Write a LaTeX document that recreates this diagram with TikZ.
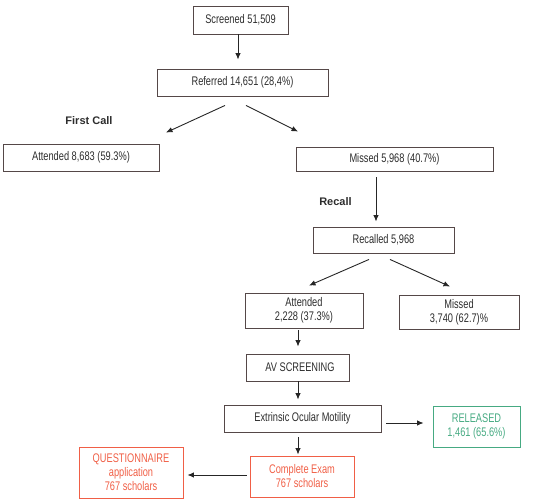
\documentclass[tikz,border=0pt]{standalone}
\usepackage{fontspec}
\setmainfont{Liberation Sans}
\newfontfamily\narrowfont{Liberation Sans}[FakeStretch=0.74]
\usetikzlibrary{arrows.meta,calc}
\definecolor{boxline}{RGB}{85,72,72}
\definecolor{txt}{RGB}{45,45,45}
\definecolor{relgreen}{RGB}{70,170,130}
\definecolor{exred}{RGB}{240,95,70}
\tikzset{
  fbox/.style={draw=boxline, line width=0.9pt, rectangle, inner sep=0pt, align=center,
    text=txt, font=\narrowfont\fontsize{12.5}{14}\selectfont},
  greenbox/.style={fbox, draw=relgreen, text=relgreen},
  redbox/.style={fbox, draw=exred, text=exred},
  lbl/.style={font=\bfseries\fontsize{11}{13}\selectfont, text=txt, inner sep=0pt},
  arr/.style={line width=0.9pt, draw=black!85, -{Latex[length=6.5pt,width=5.5pt]}}
}
\begin{document}
\begin{tikzpicture}[x=1pt,y=-1pt]
\useasboundingbox (0,0) rectangle (542,500);
\node[fbox, minimum width=95pt, minimum height=28pt] (scr) at (240.5,20) {Screened 51,509};
\node[fbox, minimum width=171pt, minimum height=27pt] (ref) at (242.5,82.5) {Referred 14,651 (28,4\%)};
\node[fbox, minimum width=156pt, minimum height=27pt] (att1) at (81,157.5) {Attended 8,683 (59.3\%)};
\node[fbox, minimum width=197pt, minimum height=24pt] (mis1) at (394.5,159) {Missed 5,968 (40.7\%)};
\node[fbox, minimum width=141pt, minimum height=26pt] (rec) at (383.5,240) {Recalled 5,968};
\node[fbox, minimum width=118pt, minimum height=35pt] (att2) at (304,310.5) {Attended\\2,228 (37.3\%)};
\node[fbox, minimum width=120pt, minimum height=34pt] (mis2) at (459,312) {Missed\\3,740 (62.7)\%};
\node[fbox, minimum width=103pt, minimum height=27pt] (av) at (297.5,367.5) {\hspace*{5pt}AV SCREENING};
\node[fbox, minimum width=157pt, minimum height=27pt] (ext) at (302.5,418.5) {Extrinsic Ocular Motility};
\node[greenbox, minimum width=87pt, minimum height=41pt] (rel) at (476.5,426.5) {RELEASED\\1,461 (65.6\%)};
\node[redbox, minimum width=104pt, minimum height=41pt] (comp) at (302,476.5) {Complete Exam\\767 scholars};
\node[redbox, minimum width=104pt, minimum height=51pt] (quest) at (131,472.5) {QUESTIONNAIRE\\application\\767 scholars};
\node[lbl] (fc) at (89,121) {First Call};
\node[lbl] (rc) at (335.5,202) {Recall};
\draw[arr] ($(scr.south)+(-2.5,0)$) -- ($(ref.north)+(-4.5,-9)$);
\draw[arr] ($(ref.south)+(-17.5,9)$) -- ($(att1.north)+(85,-11)$);
\draw[arr] ($(ref.south)+(3.5,9)$) -- ($(mis1.north)+(-96.5,-15)$);
\draw[arr] ($(mis1.south)+(-18.5,6)$) -- ($(rec.north)+(-7.5,-5)$);
\draw[arr] ($(rec.south)+(-14.5,6)$) -- ($(att2.north)+(5,-7)$);
\draw[arr] ($(rec.south)+(6.5,6)$) -- ($(mis2.north)+(-9,-8)$);
\draw[arr] ($(att2.south)+(-6,2)$) -- ($(av.north)+(0.5,-7)$);
\draw[arr] ($(av.south)+(0.5,0)$) -- ($(ext.north)+(-4.5,-5)$);
\draw[arr] ($(ext.east)+(5,4.5)$) -- ($(rel.west)+(-9,-3.5)$);
\draw[arr] ($(ext.south)+(-4.5,5)$) -- ($(comp.north)+(-4,-1)$);
\draw[arr] ($(comp.west)+(-3,-1.5)$) -- ($(quest.east)+(4,2.5)$);
\end{tikzpicture}
\end{document}
